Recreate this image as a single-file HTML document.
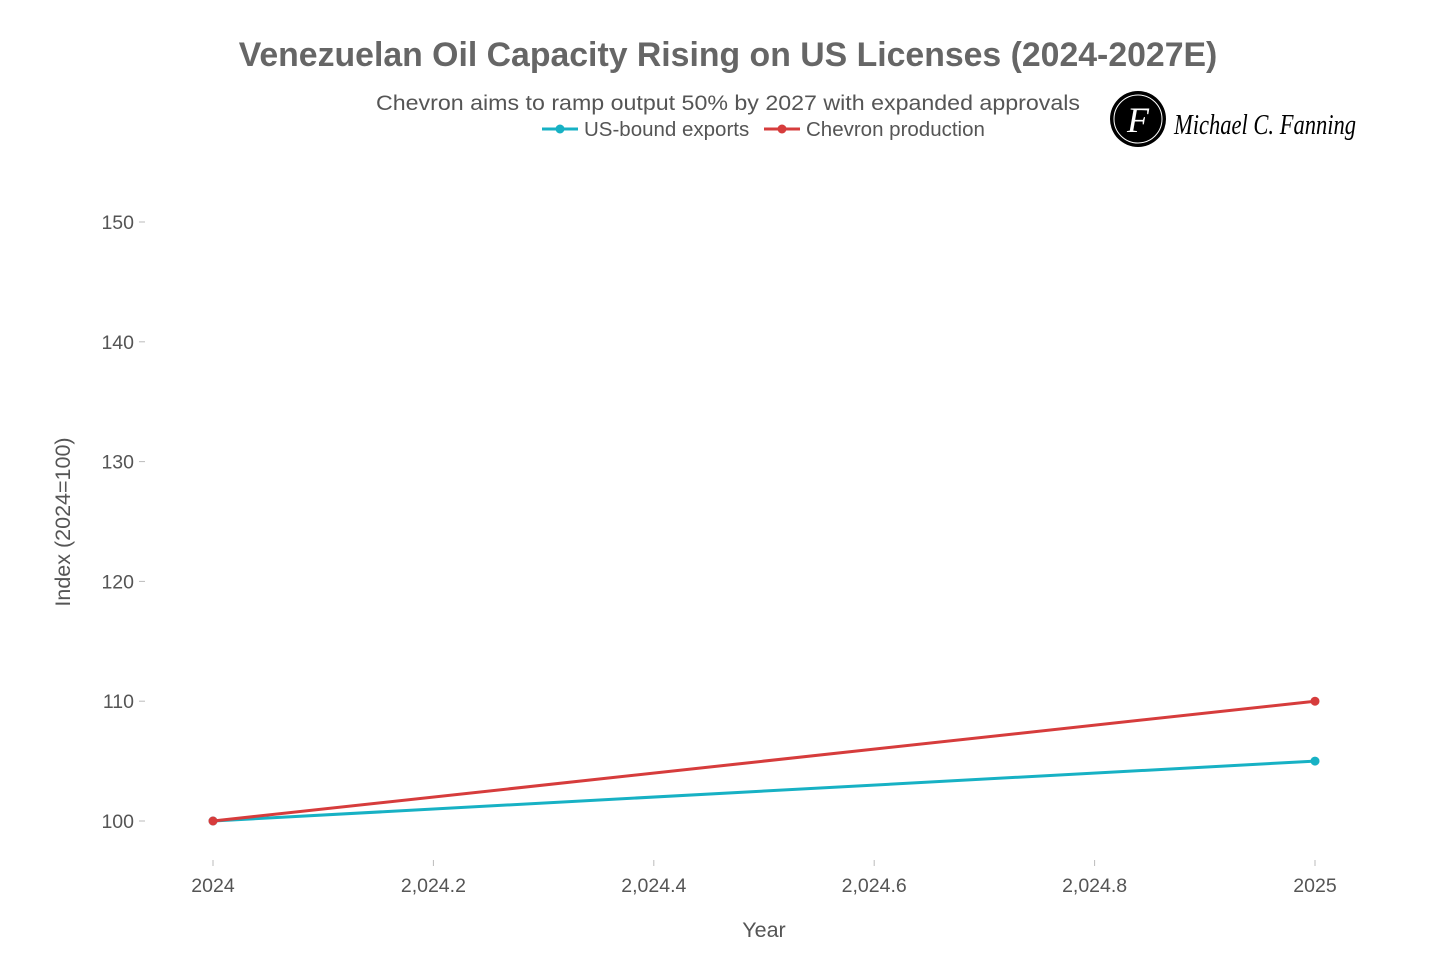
<!DOCTYPE html>
<html><head><meta charset="utf-8"><style>
body{margin:0;background:#fff;}
svg{display:block;font-family:"Liberation Sans",sans-serif;}
</style></head><body>
<svg id="chart" width="1456" height="971">
<text x="728" y="66" text-anchor="middle" font-size="33.8" font-weight="bold" fill="#666">Venezuelan Oil Capacity Rising on US Licenses (2024-2027E)</text>
<text x="376" y="110" font-size="21.5" fill="#555" textLength="704" lengthAdjust="spacingAndGlyphs">Chevron aims to ramp output 50% by 2027 with expanded approvals</text>
<g>
<g><line x1="542" y1="129" x2="578" y2="129" stroke="#17b1c4" stroke-width="3"/><circle cx="560" cy="129" r="4.5" fill="#17b1c4"/><text x="584" y="136" font-size="20.5" fill="#555">US-bound exports</text></g>
<g><line x1="764" y1="129" x2="800" y2="129" stroke="#d63c3c" stroke-width="3"/><circle cx="782" cy="129" r="4.5" fill="#d63c3c"/><text x="806" y="136" font-size="20.5" fill="#555">Chevron production</text></g>
</g>
<g>
<circle cx="1138" cy="119" r="28" fill="#000"/><circle cx="1138" cy="119" r="24" fill="none" stroke="#fff" stroke-width="1"/>
<text x="1138" y="132" text-anchor="middle" font-size="36" font-style="italic" fill="#fff" font-family="Liberation Serif,serif">F</text>
<text x="1174" y="134" font-size="28" font-style="italic" fill="#000" font-family="Liberation Serif,serif" textLength="182" lengthAdjust="spacingAndGlyphs">Michael C. Fanning</text>
</g>
<g id="axes"></g>
<g id="marks"></g>
<text x="764" y="937" text-anchor="middle" font-size="21.5" fill="#555">Year</text>
<text transform="translate(70,522) rotate(-90)" text-anchor="middle" font-size="21.5" fill="#555">Index (2024=100)</text>
</svg>
<script>
const years=[2024,2025];
const usExports=[100,105];
const chevron=[100,110];
const xTicks=[2024,2024.2,2024.4,2024.6,2024.8,2025];
const xTickLabels=["2024","2,024.2","2,024.4","2,024.6","2,024.8","2025"];
const yTicks=[100,110,120,130,140,150];
const NS="http://www.w3.org/2000/svg";
const X=v=>213+(v-2024)*(1315-213);
const Y=v=>821-(v-100)*(821-222)/50;
const axes=document.getElementById('axes'),marks=document.getElementById('marks');
function mk(t,a,p){const e=document.createElementNS(NS,t);for(const k in a)e.setAttribute(k,a[k]);p.appendChild(e);return e;}
yTicks.forEach(v=>{
 const l=mk('line',{x1:139,x2:145,y1:Y(v),y2:Y(v),stroke:'#bbb'},axes);
 
 
 const t=mk('text',{x:134,y:Y(v)+7,'text-anchor':'end','font-size':19.5,fill:'#555'},axes);t.textContent=v;
 
 
});
xTicks.forEach((v,i)=>{
 const l=mk('line',{x1:X(v),x2:X(v),y1:860,y2:866,stroke:'#bbb'},axes);
 
 
 const t=mk('text',{x:X(v),y:892,'text-anchor':'middle','font-size':19.5,fill:'#555'},axes);t.textContent=xTickLabels[i];
 
 
});
[[usExports,'#17b1c4','us-exports'],[chevron,'#d63c3c','chevron-production']].forEach(([vals,c,n])=>{
 const p=mk('polyline',{points:years.map((y,i)=>X(y)+','+Y(vals[i])).join(' '),fill:'none',stroke:c,'stroke-width':3},marks);
 
 
 years.forEach((y,i)=>{const d=mk('circle',{cx:X(y),cy:Y(vals[i]),r:4.5,fill:c},marks);
  
  });
});
</script>
</body></html>
